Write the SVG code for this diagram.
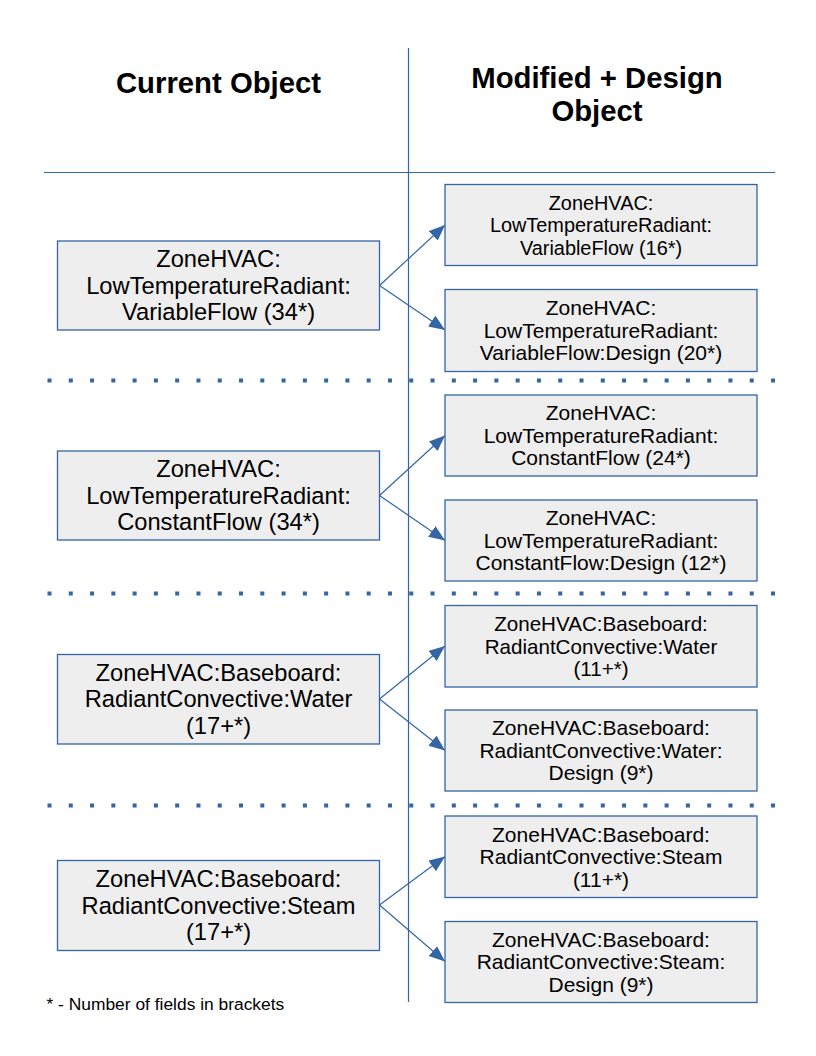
<svg xmlns="http://www.w3.org/2000/svg" width="816" height="1056" viewBox="0 0 816 1056">
<style>
.box{fill:#eeeeee;stroke:#3465a4;stroke-width:1.3}
.rule{stroke:#3465a4;stroke-width:1.2;fill:none}
.dots{stroke:#3465a4;stroke-width:4;stroke-dasharray:4 17.28;fill:none}
.con{stroke:#3465a4;stroke-width:1.2;fill:none;marker-end:url(#ah)}
.hd{font-family:"Liberation Sans",Arial,sans-serif;font-weight:bold;font-size:29.3px;fill:#000;text-anchor:middle}
.tl{font-family:"Liberation Sans",Arial,sans-serif;font-size:23.7px;fill:#000;text-anchor:middle}
.tr{font-family:"Liberation Sans",Arial,sans-serif;font-size:21px;fill:#000;text-anchor:middle}
.ts{font-size:19.9px}
.tm{font-size:20.6px}
.ft{font-family:"Liberation Sans",Arial,sans-serif;font-size:17.4px;fill:#000}
</style>
<defs>
<marker id="ah" markerUnits="userSpaceOnUse" markerWidth="18" markerHeight="14" refX="16" refY="6.5" orient="auto">
<path d="M0,0 L16,6.5 L0,13 Z" fill="#3465a4"/>
</marker>
</defs>
<rect width="816" height="1056" fill="#ffffff"/>
<g id="frame">
<line class="rule" x1="408.5" y1="48" x2="408.5" y2="1002"/>
<line class="rule" x1="44" y1="172.5" x2="775" y2="172.5"/>
<line class="dots" x1="47.5" y1="380.5" x2="777" y2="380.5"/>
<line class="dots" x1="47.5" y1="593.5" x2="777" y2="593.5"/>
<line class="dots" x1="47.5" y1="805.5" x2="777" y2="805.5"/>
</g>
<g id="headers">
<text class="hd" x="218.5" y="93">Current Object</text>
<text class="hd" x="597" y="88">Modified + Design</text>
<text class="hd" x="597" y="121">Object</text>
</g>
<g id="connectors">
<path class="con" d="M379.5,285.5 L445,225"/>
<path class="con" d="M379.5,285.5 L445,330"/>
<path class="con" d="M379.5,495.5 L445,435.5"/>
<path class="con" d="M379.5,495.5 L445,540.5"/>
<path class="con" d="M379.5,699 L445,646"/>
<path class="con" d="M379.5,699 L445,750.5"/>
<path class="con" d="M379.5,905 L445,856.5"/>
<path class="con" d="M379.5,905 L445,961.5"/>
</g>
<g id="left1"><rect class="box" x="57.5" y="241" width="322" height="89"/>
<text class="tl" x="218.5" y="267">ZoneHVAC:</text><text class="tl" x="218.5" y="293.5">LowTemperatureRadiant:</text><text class="tl" x="218.5" y="320">VariableFlow (34*)</text></g>
<g id="left2"><rect class="box" x="57.5" y="451" width="322" height="89"/>
<text class="tl" x="218.5" y="477">ZoneHVAC:</text><text class="tl" x="218.5" y="503.5">LowTemperatureRadiant:</text><text class="tl" x="218.5" y="530">ConstantFlow (34*)</text></g>
<g id="left3"><rect class="box" x="57.5" y="654.5" width="322" height="89.5"/>
<text class="tl" x="218.5" y="680.5">ZoneHVAC:Baseboard:</text><text class="tl" x="218.5" y="707">RadiantConvective:Water</text><text class="tl" x="218.5" y="733.5">(17+*)</text></g>
<g id="left4"><rect class="box" x="57.5" y="860.5" width="322" height="90"/>
<text class="tl" x="218.5" y="887">ZoneHVAC:Baseboard:</text><text class="tl" x="218.5" y="913.5">RadiantConvective:Steam</text><text class="tl" x="218.5" y="940">(17+*)</text></g>
<g id="right1a"><rect class="box" x="445" y="184.5" width="312" height="81"/>
<text class="tr ts" x="601" y="209.5">ZoneHVAC:</text><text class="tr ts" x="601" y="232">LowTemperatureRadiant:</text><text class="tr ts" x="601" y="254.5">VariableFlow (16*)</text></g>
<g id="right1b"><rect class="box" x="445" y="289.5" width="312" height="82"/>
<text class="tr" x="601" y="315">ZoneHVAC:</text><text class="tr" x="601" y="337.5">LowTemperatureRadiant:</text><text class="tr" x="601" y="360">VariableFlow:Design (20*)</text></g>
<g id="right2a"><rect class="box" x="445" y="395" width="312" height="81"/>
<text class="tr" x="601" y="420">ZoneHVAC:</text><text class="tr" x="601" y="442.5">LowTemperatureRadiant:</text><text class="tr" x="601" y="465">ConstantFlow (24*)</text></g>
<g id="right2b"><rect class="box" x="445" y="500" width="312" height="81"/>
<text class="tr" x="601" y="525">ZoneHVAC:</text><text class="tr" x="601" y="547.5">LowTemperatureRadiant:</text><text class="tr" x="601" y="570">ConstantFlow:Design (12*)</text></g>
<g id="right3a"><rect class="box" x="445" y="605.5" width="312" height="81.5"/>
<text class="tr tm" x="601" y="631">ZoneHVAC:Baseboard:</text><text class="tr tm" x="601" y="653.5">RadiantConvective:Water</text><text class="tr tm" x="601" y="676">(11+*)</text></g>
<g id="right3b"><rect class="box" x="445" y="710" width="312" height="81"/>
<text class="tr" x="601" y="735">ZoneHVAC:Baseboard:</text><text class="tr" x="601" y="757.5">RadiantConvective:Water:</text><text class="tr" x="601" y="780">Design (9*)</text></g>
<g id="right4a"><rect class="box" x="445" y="816" width="312" height="81.5"/>
<text class="tr" x="601" y="841.5">ZoneHVAC:Baseboard:</text><text class="tr" x="601" y="864">RadiantConvective:Steam</text><text class="tr" x="601" y="886.5">(11+*)</text></g>
<g id="right4b"><rect class="box" x="445" y="921.5" width="312" height="81"/>
<text class="tr" x="601" y="946.5">ZoneHVAC:Baseboard:</text><text class="tr" x="601" y="969">RadiantConvective:Steam:</text><text class="tr" x="601" y="991.5">Design (9*)</text></g>
<g id="footnote"><text class="ft" x="46.5" y="1010">* - Number of fields in brackets</text></g>
</svg>
